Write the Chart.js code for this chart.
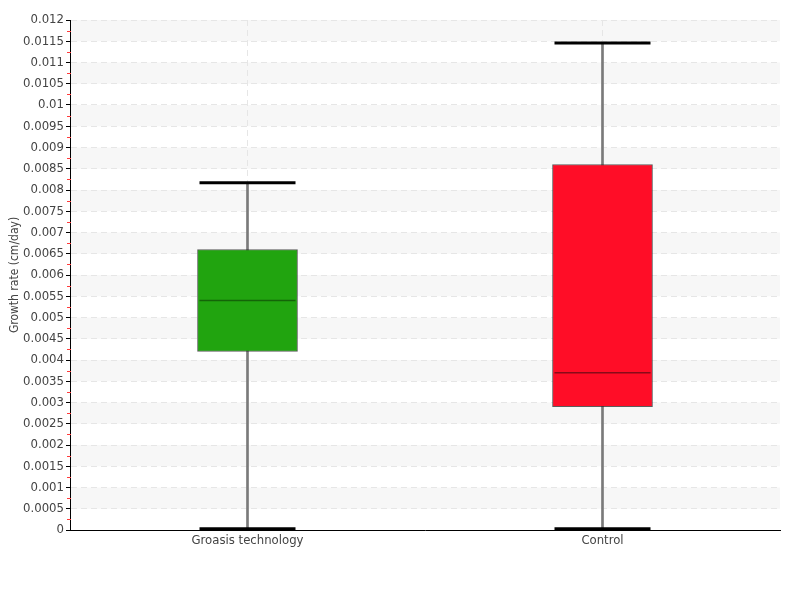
<!DOCTYPE html>
<html>
<head>
<meta charset="utf-8">
<script src="https://cdn.jsdelivr.net/npm/chart.js@4/dist/chart.umd.min.js"></script>
<style>
  html, body { margin: 0; padding: 0; background: #fff; }
  canvas { display: block; }
</style>
</head>
<body>
<canvas id="growthBox" width="800" height="600"></canvas>
<script>
// box plot data
const categories = ['Groasis technology', 'Control'];
const mins    = [0.00003, 0.00003];
const q1s     = [0.0042, 0.0029];
const medians = [0.0054, 0.0037];
const q3s     = [0.0066, 0.0086];
const maxs    = [0.00817, 0.01146];
const boxColors    = ['#21a40f', '#ff0d27'];
const medianColors = ['#146408', '#8a0a18'];

const yMax = 0.012;
const yStep = 0.0005;

// grey bands + little red minor ticks on the y axis
const bandsPlugin = {
  id: 'bands',
  beforeDraw(chart) {
    const {ctx, chartArea, scales: {y}} = chart;
    ctx.save();
    ctx.fillStyle = '#f7f7f7';
    for (let v = yStep; v < yMax; v += 2 * yStep) {
      const top = y.getPixelForValue(v + yStep);
      const bottom = y.getPixelForValue(v);
      ctx.fillRect(chartArea.left, top, chartArea.right - chartArea.left, bottom - top);
    }
    ctx.restore();
  },
  afterDraw(chart) {
    const {ctx, chartArea, scales: {y}} = chart;
    ctx.save();
    ctx.strokeStyle = '#ff3b3b';
    ctx.lineWidth = 1;
    for (let v = yStep / 2; v < yMax; v += yStep) {
      const py = Math.round(y.getPixelForValue(v)) + 0.5;
      ctx.beginPath();
      ctx.moveTo(chartArea.left - 3, py);
      ctx.lineTo(chartArea.left + 1, py);
      ctx.stroke();
    }
    ctx.restore();
  }
};

const font = { family: '"Liberation Sans Narrow", "DejaVu Sans Condensed", sans-serif', size: 13 };

new Chart(document.getElementById('growthBox'), {
  type: 'bar',
  data: {
    labels: categories,
    datasets: [
      {
        // whiskers
        type: 'bar',
        data: mins.map((m, i) => [m, maxs[i]]),
        backgroundColor: '#7a7a7a',
        barThickness: 2,
        grouped: false,
        order: 3
      },
      {
        // boxes
        type: 'bar',
        data: q1s.map((q, i) => [q, q3s[i]]),
        backgroundColor: boxColors,
        borderColor: 'rgba(40,40,40,0.75)',
        borderWidth: 1,
        borderSkipped: false,
        barThickness: 100,
        grouped: false,
        order: 2
      },
      {
        // medians
        type: 'line',
        data: medians,
        showLine: false,
        pointStyle: 'line',
        radius: 48,
        hoverRadius: 48,
        borderWidth: 1.5,
        borderColor: medianColors,
        order: 1
      },
      {
        // upper caps
        type: 'line',
        data: maxs,
        showLine: false,
        pointStyle: 'line',
        radius: 48,
        hoverRadius: 48,
        borderWidth: 3,
        borderColor: '#000',
        order: 0
      },
      {
        // lower caps
        type: 'line',
        data: mins,
        showLine: false,
        pointStyle: 'line',
        radius: 48,
        hoverRadius: 48,
        borderWidth: 3,
        borderColor: '#000',
        order: 0,
        clip: false
      }
    ]
  },
  options: {
    responsive: false,
    animation: false,
    layout: { autoPadding: false, padding: { top: 20, right: 20, left: 0, bottom: 0 } },
    plugins: {
      legend: { display: false },
      tooltip: { enabled: false }
    },
    scales: {
      x: {
        offset: true,
        grid: {
          offset: false,
          color: '#e6e6e6',
          drawTicks: false
        },
        border: { display: true, color: '#000', width: 1, dash: [6, 4] },
        ticks: { color: '#444', font: font, padding: 3, maxRotation: 0 },
        afterFit(scale) { scale.height = 70; }
      },
      y: {
        min: 0,
        max: yMax,
        grid: {
          color: '#e6e6e6',
          tickColor: '#000',
          tickLength: 4,
          tickBorderDash: []
        },
        border: { display: true, color: '#000', width: 1, dash: [6, 4] },
        ticks: {
          stepSize: yStep,
          autoSkip: false,
          color: '#444',
          font: font,
          padding: 2,
          callback: v => String(+v.toFixed(5))
        },
        title: {
          display: true,
          text: 'Growth rate (cm/day)',
          color: '#444',
          font: { family: font.family, size: 12 },
          padding: { top: 8, bottom: 0 }
        },
        afterFit(scale) { scale.width = 70; }
      }
    }
  },
  plugins: [bandsPlugin]
});
</script>
</body>
</html>
